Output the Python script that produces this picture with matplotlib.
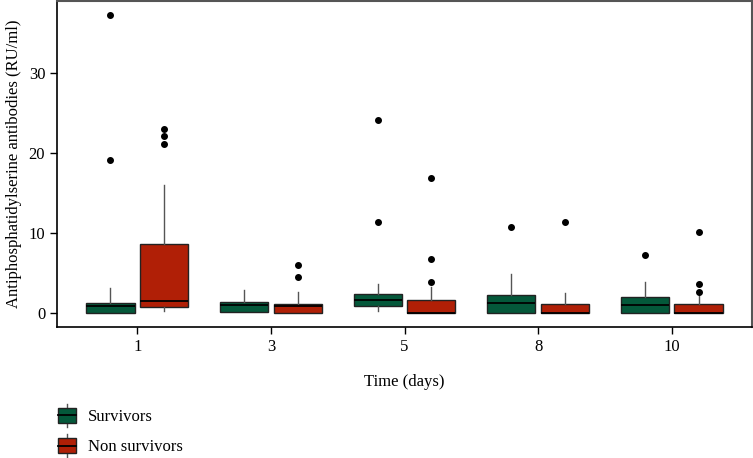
import matplotlib
matplotlib.use("Agg")
import matplotlib.pyplot as plt
from matplotlib.legend_handler import HandlerBase
from matplotlib.patches import Rectangle, Patch
from matplotlib.lines import Line2D

# ---------------------------------------------------------------------------
# Data: per-day box statistics for each group
# ---------------------------------------------------------------------------
days = ["1", "3", "5", "8", "10"]

surv_q1 = [0.0, 0.1, 0.9, 0.0, 0.0]
surv_med = [0.9, 1.0, 1.6, 1.3, 1.05]
surv_q3 = [1.25, 1.4, 2.4, 2.25, 1.95]
surv_wlo = [0.0, 0.1, 0.2, 0.0, 0.0]
surv_whi = [3.1, 2.9, 3.6, 4.9, 3.85]
surv_fliers = [[19.1, 37.2], [], [11.4, 24.1], [10.8], [7.3]]

non_q1 = [0.75, 0.0, 0.0, 0.0, 0.0]
non_med = [1.55, 0.9, 0.05, 0.05, 0.05]
non_q3 = [8.6, 1.15, 1.6, 1.1, 1.1]
non_wlo = [0.2, 0.0, 0.0, 0.0, 0.0]
non_whi = [16.0, 2.65, 3.3, 2.55, 2.2]
non_fliers = [[21.1, 22.1, 23.0], [4.45, 6.0], [3.9, 6.7, 16.9], [11.35], [2.6, 3.6, 10.1]]

GREEN = "#04583a"
RED = "#b01f06"
EDGE = "#222222"
WHISK = "#555555"

plt.rcParams["font.family"] = ["Liberation Serif", "DejaVu Serif"]
plt.rcParams["font.size"] = 12


def _stats(q1, med, q3, wlo, whi, fl):
    return [dict(q1=a, med=b, q3=c, whislo=d, whishi=e, fliers=f)
            for a, b, c, d, e, f in zip(q1, med, q3, wlo, whi, fl)]


class BoxHandler(HandlerBase):
    """Legend key drawn as a tiny boxplot."""

    def create_artists(self, legend, orig_handle, xdescent, ydescent,
                       width, height, fontsize, trans):
        cx = -xdescent + width / 2
        w = Line2D([cx, cx], [-ydescent - 3, -ydescent + height + 3],
                   color=WHISK, lw=1, transform=trans)
        box = Rectangle((-xdescent, -ydescent), width, height,
                        facecolor=orig_handle.get_facecolor(), edgecolor=EDGE,
                        lw=1, transform=trans)
        ym = -ydescent + height / 2
        med = Line2D([-xdescent, -xdescent + width], [ym, ym], color="black",
                     lw=1.3, transform=trans)
        return [w, box, med]


fig = plt.figure(figsize=(7.53, 4.58), dpi=100)
ax = fig.add_axes([57 / 753, 1 - 327 / 458, (752 - 57) / 753, 326 / 458])

pos = list(range(len(days)))
off = 0.2
common = dict(widths=0.36, patch_artist=True, showcaps=False,
              whiskerprops=dict(color=WHISK, lw=1),
              medianprops=dict(color="black", lw=1.3),
              flierprops=dict(marker="o", markerfacecolor="black",
                              markeredgecolor="black", markersize=4))

ax.bxp(_stats(surv_q1, surv_med, surv_q3, surv_wlo, surv_whi, surv_fliers),
       positions=[p - off for p in pos],
       boxprops=dict(facecolor=GREEN, edgecolor=EDGE, lw=1), **common)
ax.bxp(_stats(non_q1, non_med, non_q3, non_wlo, non_whi, non_fliers),
       positions=[p + off for p in pos],
       boxprops=dict(facecolor=RED, edgecolor=EDGE, lw=1), **common)

ax.set_xlim(-0.6, 4.6)
ax.set_ylim(-1.75, 39)
ax.set_xticks(pos)
ax.set_xticklabels(days)
ax.set_yticks([0, 10, 20, 30])
ax.tick_params(length=5, width=1, color="black", direction="out")
ax.set_xlabel("Time (days)", labelpad=14)
ax.set_ylabel("Antiphosphatidylserine antibodies (RU/ml)", labelpad=5)

for s in ("left", "bottom"):
    ax.spines[s].set_color("black")
    ax.spines[s].set_linewidth(1.2)
for s in ("top", "right"):
    ax.spines[s].set_color("#555555")
    ax.spines[s].set_linewidth(1.5)

handles = [Patch(facecolor=GREEN), Patch(facecolor=RED)]
fig.legend(handles, ["Survivors", "Non survivors"],
           handler_map={Patch: BoxHandler()},
           loc="upper left", bbox_to_anchor=(51 / 753, 1 - 401 / 458),
           frameon=False, handlelength=1.1, handleheight=1.0,
           labelspacing=0.8, handletextpad=0.7, borderaxespad=0)

fig.savefig("out.png", dpi=100)
plt.close(fig)
